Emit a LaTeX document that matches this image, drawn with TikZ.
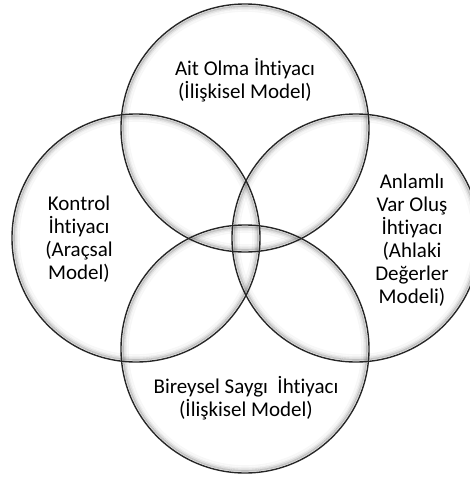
\documentclass[tikz,border=0pt]{standalone}
\usepackage{fontspec}
\setmainfont{Carlito}[Ligatures=NoCommon]
\usepackage{tikz}

\begin{document}
\begin{tikzpicture}[x=1pt, y=-1pt,
    ring/.style={draw=black!85, line width=1.4pt},
    glow/.style={draw=black, line width=1.6pt},
    need/.style={align=center, inner sep=0pt, font=\fontsize{21}{23}\selectfont}]
    \useasboundingbox (0,0) rectangle (470,477);
    \clip (0,0) rectangle (470,477);

    \coordinate (ait) at (245,128);
    \coordinate (kontrol) at (136,238);
    \coordinate (anlam) at (356,238);
    \coordinate (saygi) at (245,349);

    % soft inner shadow of each ring
    \foreach \c in {ait,kontrol,anlam,saygi} {
      \foreach \d/\o in {2/0.22,3.5/0.12,5/0.06,7/0.03}
        \draw[glow, draw opacity=\o] (\c) circle (124-\d);
    }
    \foreach \c in {ait,kontrol,anlam,saygi}
      \draw[ring] (\c) circle (124);

    \node[need] (aitText) at (245,80) {Ait Olma İhtiyacı\\(İlişkisel Model)};
    \node[need] (kontrolText) at (79,239) {Kontrol\\İhtiyacı\\(Araçsal\\Model)};
    \node[need] (anlamText) at (412,240) {Anlamlı\\Var Oluş\\İhtiyacı\\(Ahlaki\\Değerler\\Modeli)};
    \node[need] (saygiText) at (246,398) {Bireysel Saygı~ İhtiyacı\\(İlişkisel Model)};
  \end{tikzpicture}
\end{document}
